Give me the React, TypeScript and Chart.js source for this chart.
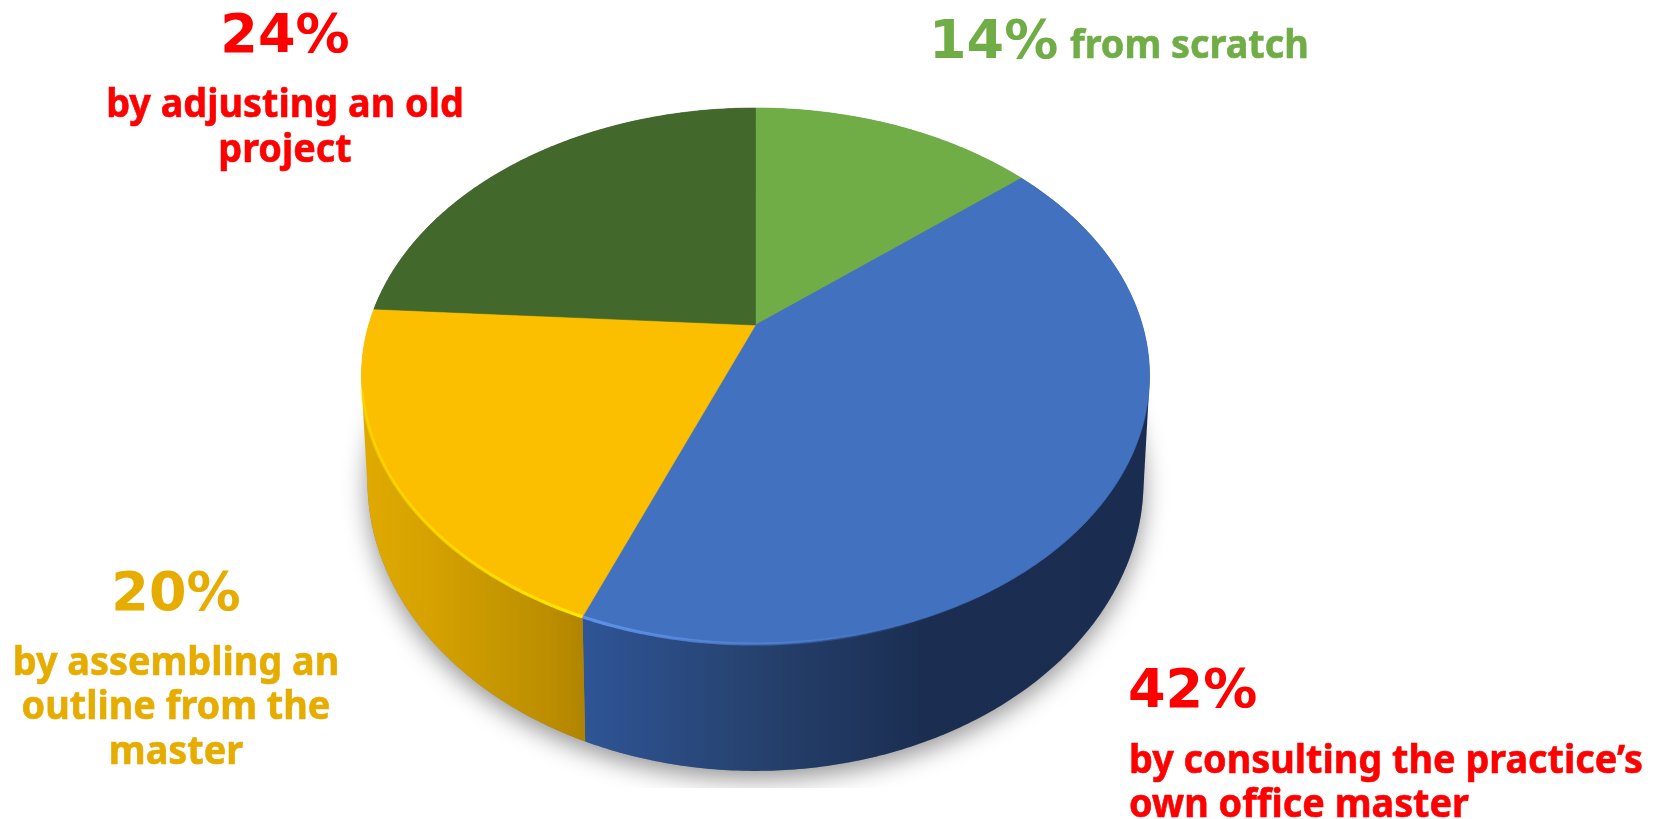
import React, { useEffect, useRef } from "react";
import Chart from "chart.js/auto";

const categories = ["from scratch", "by consulting the practice’s own office master", "by assembling an outline from the master", "by adjusting an old project"];
const shares = [14, 42, 20, 24];
const topColors = ["#70AD47", "#4171BF", "#FBBF00", "#43682B"];
const wallStops: [number, string][][] = [
  [[0, "#4f7a32"], [1, "#4f7a32"]],
  [[0, "#2f5597"], [0.3, "#26426f"], [0.6, "#1b2e52"], [1, "#1a2d50"]],
  [[0, "#e0aa00"], [0.3, "#d6a200"], [0.6, "#c79700"], [0.85, "#bb8d00"], [1, "#b08400"]],
  [[0, "#2e4a1e"], [1, "#2e4a1e"]],
];
const rimColors = ["rgba(0,0,0,0)", "#5f92ea", "#FFE800", "rgba(0,0,0,0)"];

type Label = { text: string; x: number; y: number; big: boolean; color: string; align: CanvasTextAlign };
const RED = "#FF0000";
const GREEN = "#70AD47";
const AMBER = "#E6AC00";
const labels: Label[] = [
  { text: "24%", x: 285, y: 52, big: true, color: RED, align: "center" },
  { text: "by adjusting an old", x: 285, y: 117, big: false, color: RED, align: "center" },
  { text: "project", x: 285, y: 162, big: false, color: RED, align: "center" },
  { text: "14%", x: 929, y: 58, big: true, color: GREEN, align: "left" },
  { text: "from scratch", x: 1070, y: 58, big: false, color: GREEN, align: "left" },
  { text: "20%", x: 176, y: 610, big: true, color: AMBER, align: "center" },
  { text: "by assembling an", x: 176, y: 675, big: false, color: AMBER, align: "center" },
  { text: "outline from the", x: 176, y: 719, big: false, color: AMBER, align: "center" },
  { text: "master", x: 176, y: 764, big: false, color: AMBER, align: "center" },
  { text: "42%", x: 1128, y: 707, big: true, color: RED, align: "left" },
  { text: "by consulting the practice’s", x: 1129, y: 773, big: false, color: RED, align: "left" },
  { text: "own office master", x: 1129, y: 817, big: false, color: RED, align: "left" },
];

const RX = 1.048, RY = 0.7128, TILT = 0.19;
const BOTTOM_RX = 1.032, BOTTOM_RY = 0.771, BOTTOM_DY = 105;

type Pt = [number, number];
function hull(points: Pt[]): Pt[] {
  const p = [...points].sort((a, b) => a[0] - b[0] || a[1] - b[1]);
  const cross = (o: Pt, a: Pt, b: Pt) => (a[0] - o[0]) * (b[1] - o[1]) - (a[1] - o[1]) * (b[0] - o[0]);
  const lower: Pt[] = [];
  for (const q of p) {
    while (lower.length >= 2 && cross(lower[lower.length - 2], lower[lower.length - 1], q) <= 0) lower.pop();
    lower.push(q);
  }
  const upper: Pt[] = [];
  for (const q of [...p].reverse()) {
    while (upper.length >= 2 && cross(upper[upper.length - 2], upper[upper.length - 1], q) <= 0) upper.pop();
    upper.push(q);
  }
  return [...lower.slice(0, -1), ...upper.slice(0, -1)];
}

const piePlugin = {
  id: "pie3d",
  beforeDatasetsDraw(chart: any) {
    const ctx: CanvasRenderingContext2D = chart.ctx;
    const arcs = chart.getDatasetMeta(0).data;
    const first = arcs[0];
    const cx = first.x, cy = first.y, R = first.outerRadius;
    const proj = (th: number, rx: number, ry: number, yc: number): Pt => {
      const u = Math.cos(th), v = Math.sin(th), d = 1 - TILT * v;
      return [cx + (rx * (u * Math.sqrt(1 - TILT * TILT))) / d, yc + (ry * (v - TILT)) / d];
    };
    const top = (th: number) => proj(th, R * RX, R * RY, cy);
    const bot = (th: number) => proj(th, R * BOTTOM_RX, R * BOTTOM_RY, cy + BOTTOM_DY);
    const steps = (a: number, b: number) => {
      const n = Math.max(2, Math.ceil(Math.abs(b - a) / 0.01));
      return Array.from({ length: n + 1 }, (_, i) => a + ((b - a) * i) / n);
    };
    const trace = (pts: Pt[]) => {
      ctx.beginPath();
      pts.forEach((p, k) => (k ? ctx.lineTo(p[0], p[1]) : ctx.moveTo(p[0], p[1])));
    };
    const full = steps(0, Math.PI * 2);

    ctx.save();
    ctx.beginPath();
    ctx.rect(0, 0, chart.width, 788);
    ctx.clip();
    ctx.shadowColor = "rgba(0,0,0,0.42)";
    ctx.shadowBlur = 24;
    ctx.shadowOffsetY = 8;
    ctx.fillStyle = "#888";
    trace(full.map(bot));
    ctx.closePath();
    ctx.fill();
    ctx.restore();

    arcs.forEach((arc: any, i: number) => {
      const ts = steps(arc.startAngle, arc.endAngle);
      const pts = hull([...ts.map(top), ...ts.map(bot)]);
      const xs = pts.map((p) => p[0]);
      const g = ctx.createLinearGradient(Math.min(...xs), 0, Math.max(...xs), 0);
      wallStops[i].forEach(([o, c]) => g.addColorStop(o, c));
      ctx.fillStyle = g;
      trace(pts);
      ctx.closePath();
      ctx.fill();
    });

    const apex: Pt = [cx, cy - R * RY * TILT];
    arcs.forEach((arc: any, i: number) => {
      const ts = steps(arc.startAngle, arc.endAngle);
      ctx.fillStyle = topColors[i];
      ctx.strokeStyle = topColors[i];
      ctx.lineWidth = 0.6;
      trace([apex, ...ts.map(top)]);
      ctx.closePath();
      ctx.fill();
      ctx.stroke();
    });

    arcs.forEach((arc: any, i: number) => {
      if (i !== 1 && i !== 2) return;
      const lo = i === 1 ? Math.max(arc.startAngle, 1.2) : arc.startAngle;
      const hi = i === 1 ? arc.endAngle : Math.min(arc.endAngle, 2.9);
      const a = top(lo), b = top(hi);
      const g = ctx.createLinearGradient(a[0], 0, b[0], 0);
      g.addColorStop(0, i === 1 ? rimColors[i] + "00" : rimColors[i]);
      g.addColorStop(1, i === 1 ? rimColors[i] : rimColors[i] + "70");
      ctx.strokeStyle = g;
      ctx.lineWidth = 3.2;
      trace(steps(lo, hi).map(top));
      ctx.stroke();
    });
    return false;
  },
  afterDraw(chart: any) {
    const ctx: CanvasRenderingContext2D = chart.ctx;
    ctx.save();
    ctx.textBaseline = "alphabetic";
    labels.forEach((l) => {
      ctx.font = l.big ? 'bold 54px "DejaVu Sans"' : 'bold 40px "Noto Sans"';
      ctx.fillStyle = l.color;
      ctx.strokeStyle = l.color;
      ctx.lineWidth = 0.6;
      ctx.textAlign = l.align;
      const w = ctx.measureText(l.text).width * (l.big ? 1 : 0.945);
      ctx.fillText(l.text, l.x, l.y, w);
      if (!l.big) ctx.strokeText(l.text, l.x, l.y, w);
    });
    ctx.restore();
  },
};

export default function App() {
  const ref = useRef<HTMLCanvasElement>(null);
  useEffect(() => {
    document.body.style.margin = "0";
    document.body.style.background = "#fff";
    const chart = new Chart(ref.current!, {
      type: "pie",
      data: { labels: categories, datasets: [{ data: shares, backgroundColor: topColors, borderWidth: 0 }] },
      options: {
        responsive: false,
        animation: false,
        devicePixelRatio: 1,
        layout: { padding: { left: 0, right: 152, top: 0, bottom: 67 } },
        plugins: { legend: { display: false }, tooltip: { enabled: false } },
      },
      plugins: [piePlugin],
    } as any);
    return () => chart.destroy();
  }, []);
  return <canvas ref={ref} width={1663} height={819} style={{ display: "block", filter: "blur(0.5px)" }} />;
}
